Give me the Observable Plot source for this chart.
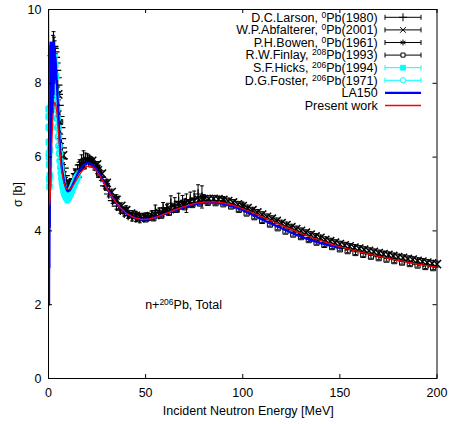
<!DOCTYPE html>
<html><head><meta charset="utf-8">
<script src="https://cdn.jsdelivr.net/npm/d3@7"></script>
<script src="https://cdn.jsdelivr.net/npm/@observablehq/plot@0.6"></script>
<style>body{margin:0;background:#fff}</style>
</head><body><div id="chart"></div>
<script>
const FONT = '"Liberation Sans", Arial, Helvetica, sans-serif';
const xTicks = [0, 50, 100, 150, 200];
const yTicks = [0, 2, 4, 6, 8, 10];
const xTitle = "Incident Neutron Energy [MeV]";
const yTitle = "σ [b]";

// D.C.Larson (1980)
const larsonE = [2.0,2.3,2.6,2.9,3.2,3.5,3.8,4.1,4.4,4.7,5.0,5.4,5.8,6.2,6.6,7.0,7.5,8.0,8.5,9.0,9.5,10,11,12,13,14,15,16,17,18,19,20,21,22,23,24,25,27,29,31,33,35,37,39,41,43,45,47,49,51,53,55,57,59,61,63,65,67,69,71,73,75,77,79];
const larsonS = [8.75,8.95,9.0,8.95,8.85,8.7,8.55,8.35,8.15,7.95,7.7,7.4,7.1,6.8,6.5,6.25,5.95,5.7,5.5,5.35,5.25,5.2,5.2,5.28,5.42,5.55,5.68,5.78,5.86,5.92,5.96,5.97,5.95,5.9,5.83,5.75,5.65,5.45,5.22,5.0,4.82,4.67,4.56,4.48,4.42,4.37,4.35,4.34,4.36,4.39,4.42,4.55,4.5,4.62,4.6,4.75,4.7,4.8,4.78,4.75,4.85,4.88,5.0,4.92];
const larsonErr = [0.3,0.35,0.4,0.3,0.3,0.25,0.25,0.2,0.2,0.2,0.2,0.15,0.15,0.15,0.12,0.12,0.1,0.1,0.1,0.1,0.1,0.1,0.1,0.1,0.1,0.1,0.12,0.15,0.2,0.25,0.15,0.12,0.1,0.1,0.1,0.1,0.1,0.08,0.08,0.08,0.08,0.08,0.08,0.08,0.08,0.1,0.1,0.12,0.1,0.1,0.12,0.15,0.12,0.15,0.12,0.2,0.2,0.22,0.18,0.25,0.2,0.2,0.25,0.3];

// W.P.Abfalterer (2001)
const abfE = [5,7.5,10,12.5,15,17.5,20,22.5,25,27.5,30,32.5,35,37.5,40,42.5,45,47.5,50,52.5,55,57.5,60,62.5,65,67.5,70,72.5,75,77.5,80,82.5,85,87.5,90,92.5,95,97.5,100,102.5,105,107.5,110,112.5,115,117.5,120,122.5,125,127.5,130,132.5,135,137.5,140,142.5,145,147.5,150,152.5,155,157.5,160,162.5,165,167.5,170,172.5,175,177.5,180,182.5,185,187.5,190,192.5,195,197.5,200];
const abfS = [7.7,6.05,5.3,5.3,5.55,5.78,5.9,5.9,5.8,5.55,5.3,5.05,4.84,4.68,4.56,4.47,4.41,4.38,4.38,4.39,4.43,4.48,4.53,4.59,4.64,4.69,4.73,4.77,4.81,4.84,4.86,4.87,4.87,4.86,4.84,4.81,4.77,4.72,4.67,4.62,4.56,4.5,4.44,4.38,4.33,4.27,4.21,4.16,4.1,4.05,4.0,3.95,3.9,3.85,3.81,3.76,3.72,3.68,3.64,3.61,3.58,3.55,3.52,3.49,3.46,3.43,3.4,3.37,3.35,3.32,3.29,3.27,3.24,3.22,3.19,3.17,3.14,3.12,3.1];
const abfErr = 0.08;

// P.H.Bowen (1961)
const bowenE = [14,18,22,26,30,35,40,45,50,60,70,80,90,100];
const bowenS = [5.5,5.85,5.92,5.7,5.32,4.9,4.6,4.45,4.4,4.55,4.78,4.9,4.85,4.7];
const bowenErr = 0.08;

// R.W.Finlay (1993)
const finlayE = [6,10,14,18,22,26,30,34,38,42,46,50,54,58,62,66,70,74,78,82,86,90,94,98,102,106,110,114,118,122,126,130,134,138,142,146,150,154,158,162,166,170,174,178,182,186,190,194,198];
const finlayS = [6.95,5.2,5.45,5.78,5.8,5.55,5.17,4.83,4.58,4.42,4.33,4.31,4.34,4.41,4.49,4.57,4.64,4.7,4.74,4.76,4.75,4.72,4.66,4.57,4.47,4.37,4.27,4.17,4.07,3.98,3.9,3.83,3.75,3.68,3.62,3.56,3.5,3.45,3.4,3.35,3.3,3.26,3.22,3.18,3.14,3.1,3.06,3.02,2.99];
const finlayErr = 0.04;

// S.F.Hicks (1994)
const hicksE = [0.05,0.08,0.12,0.16,0.2,0.25,0.3,0.4,0.5,0.6,0.8,1.0,1.3,1.6,2.0,2.5,3.0,3.5,4.0];
const hicksS = [7.3,7.1,6.8,6.4,6.1,6.0,5.8,5.4,5.2,5.5,6.2,6.8,7.4,7.9,8.3,8.6,8.7,8.5,8.2];
const hicksErr = 0.1;

// D.G.Foster (1971)
const fosterE = [2.4,2.7,3.0,3.3,3.6,3.9,4.2,4.5,4.8,5.1,5.4,5.7,6.0,6.3,6.6,6.9,7.2,7.5,7.8,8.1,8.4,8.7,9.0,9.3,9.6,9.9,10.2,10.5,10.8,11.1,11.4,11.7,12.0,12.4,12.8,13.2,13.6,14.0,14.5,15.0];
const fosterS = [8.1,8.0,7.9,7.8,7.65,7.5,7.3,7.05,6.8,6.55,6.3,6.1,5.9,5.72,5.56,5.42,5.3,5.2,5.12,5.05,5.0,4.96,4.93,4.91,4.9,4.9,4.92,4.94,4.97,5.0,5.04,5.08,5.12,5.17,5.22,5.27,5.32,5.37,5.43,5.48];
const fosterErr = 0.14;
const fosterEres = 0.8;

// LA150 evaluation
const laE = [0,0.1,0.2,0.3,0.4,0.5,0.6,0.7,0.8,0.9,1.0,1.1,1.2,1.3,1.4,1.5,1.6,1.7,1.8,1.9,2.0,2.2,2.4,2.6,2.8,3.0,3.2,3.4,3.6,3.8,4.0,4.5,5.0,5.5,6.0,6.5,7,8,9,9.5,10,11,12,14,16,18,20,22,24,26,28,30,33,36,40,44,48,52,56,60,65,70,75,80,85,90,95,100,105,110,115,120,125,130,135,140,145,150];
const laS = [9.0,2.1,8.6,2.0,7.2,3.0,8.9,4.1,8.5,5.2,9.1,6.0,8.7,6.4,9.0,6.8,8.8,7.0,9.1,7.2,8.9,7.4,9.0,7.7,9.1,8.0,8.9,8.3,8.7,8.5,8.3,7.8,7.3,6.7,6.2,5.9,5.65,5.35,5.17,5.1,5.07,5.1,5.2,5.45,5.65,5.78,5.84,5.82,5.72,5.56,5.37,5.17,4.9,4.67,4.47,4.36,4.31,4.32,4.38,4.46,4.56,4.65,4.72,4.76,4.77,4.73,4.66,4.56,4.44,4.31,4.19,4.07,3.95,3.84,3.75,3.67,3.6,3.54];

// Present work
const pwE = [0,0.2,0.4,0.6,0.9,1.3,1.8,2.3,2.8,3.3,3.8,4.3,4.8,5.3,5.8,6.3,6.8,7.4,8,8.7,9.4,10.2,11,12,13,14,16,18,20,22,24,26,28,30,33,36,40,44,48,52,56,60,65,70,75,80,85,90,95,100,105,110,115,120,125,130,135,140,145,150,160,170,180,190,200];
const pwS = [10.6,7.5,5.3,4.7,4.9,5.6,6.5,7.1,7.4,7.48,7.42,7.2,6.9,6.55,6.2,5.9,5.65,5.45,5.3,5.2,5.14,5.12,5.13,5.18,5.26,5.35,5.53,5.67,5.75,5.75,5.67,5.53,5.35,5.16,4.9,4.68,4.48,4.36,4.31,4.32,4.38,4.46,4.57,4.66,4.74,4.78,4.79,4.76,4.7,4.6,4.5,4.38,4.27,4.15,4.04,3.93,3.83,3.74,3.65,3.57,3.43,3.31,3.2,3.1,3.02];

const annot = {E: 50, s: 2, pre: "n+", sup: "206", post: "Pb, Total"};

const legendItems = [
  {pre: "D.C.Larson, ", sup: "0", post: "Pb(1980)", color: "black", sym: "plus", err: true},
  {pre: "W.P.Abfalterer, ", sup: "0", post: "Pb(2001)", color: "black", sym: "times", err: true},
  {pre: "P.H.Bowen, ", sup: "0", post: "Pb(1961)", color: "black", sym: "asterisk", err: true},
  {pre: "R.W.Finlay, ", sup: "208", post: "Pb(1993)", color: "black", sym: "square", err: true},
  {pre: "S.F.Hicks, ", sup: "206", post: "Pb(1994)", color: "#00ffff", sym: "squareFill", err: true},
  {pre: "D.G.Foster, ", sup: "206", post: "Pb(1971)", color: "#00ffff", sym: "circle", err: true},
  {pre: "LA150", color: "#0000ff", width: 2.2},
  {pre: "Present work", color: "#ff0000", width: 1.3}
];

function rows(E, S, err) {
  return E.map((e, i) => ({E: e, s: S[i], err: Array.isArray(err) ? err[i] : err}));
}
const larson = rows(larsonE, larsonS, larsonErr);
const abf = rows(abfE, abfS, abfErr);
const bowen = rows(bowenE, bowenS, bowenErr);
const finlay = rows(finlayE, finlayS, finlayErr);
const hicks = rows(hicksE, hicksS, hicksErr);
const foster = rows(fosterE, fosterS, fosterErr);
const la = rows(laE, laS, 0);
const pw = rows(pwE, pwS, 0);

const hbar = {draw(ctx, size) { const w = Math.sqrt(size); ctx.moveTo(-w, 0); ctx.lineTo(w, 0); }};

function errMarks(data, color) {
  return [
    Plot.ruleX(data, {x: "E", y1: d => d.s - d.err, y2: d => d.s + d.err, stroke: color, strokeWidth: 1}),
    Plot.dot(data, {x: "E", y: d => d.s - d.err, symbol: hbar, r: 1.1, stroke: color, strokeWidth: 1}),
    Plot.dot(data, {x: "E", y: d => d.s + d.err, symbol: hbar, r: 1.1, stroke: color, strokeWidth: 1})
  ];
}

const W = 449, H = 424;
const mL = 48, mR = 12.5, mT = 9, mB = 46;
const fw = W - mL - mR, fh = H - mT - mB, tk = 4;

const chart = Plot.plot({
  width: W, height: H,
  marginLeft: mL, marginRight: mR, marginTop: mT, marginBottom: mB,
  style: {background: "white", fontFamily: FONT, fontSize: "12.5px", color: "black"},
  x: {domain: [0, 200]},
  y: {domain: [0, 10]},
  marks: [
    // Larson
    ...errMarks(larson, "black"),
    Plot.dot(larson, {x: "E", y: "s", symbol: "plus", r: 3.2, stroke: "black", strokeWidth: 1.2}),
    // Abfalterer
    ...errMarks(abf, "black"),
    Plot.dot(abf, {x: "E", y: "s", symbol: "times", r: 3.8, stroke: "black", strokeWidth: 1.5}),
    // Bowen
    ...errMarks(bowen, "black"),
    Plot.dot(bowen, {x: "E", y: "s", symbol: "asterisk", r: 3.4, stroke: "black", strokeWidth: 1.2}),
    // Finlay
    ...errMarks(finlay, "black"),
    Plot.dot(finlay, {x: "E", y: "s", symbol: "square", r: 2.9, fill: "white", fillOpacity: 0, stroke: "black", strokeWidth: 1}),
    // Hicks
    ...errMarks(hicks, "#00ffff"),
    Plot.dot(hicks, {x: "E", y: "s", symbol: "square", r: 2.8, fill: "#00ffff", stroke: "#00ffff"}),
    // Foster
    ...errMarks(foster, "#00ffff"),
    Plot.ruleY(foster, {y: "s", x1: d => d.E - fosterEres, x2: d => d.E + fosterEres, stroke: "#00ffff", strokeWidth: 2}),
    Plot.dot(foster, {x: "E", y: "s", symbol: "circle", r: 3, fill: "none", stroke: "#00ffff", strokeWidth: 1.8}),
    // LA150
    Plot.line(la, {x: "E", y: "s", stroke: "#0000ff", strokeWidth: 2.2, clip: true}),
    // Present work
    Plot.line(pw, {x: "E", y: "s", stroke: "#ff0000", strokeWidth: 1.2, clip: true}),
    // frame, ticks
    Plot.frame({stroke: "black", strokeWidth: 1}),
    Plot.tickX(xTicks, {x: d => d, insetTop: fh - tk, stroke: "black"}),
    Plot.tickX(xTicks, {x: d => d, insetBottom: fh - tk, stroke: "black"}),
    Plot.tickY(yTicks, {y: d => d, insetRight: fw - tk, stroke: "black"}),
    Plot.tickY(yTicks, {y: d => d, insetLeft: fw - tk, stroke: "black"}),
    Plot.axisX(xTicks, {tickSize: 0, tickPadding: 9.5, label: null}),
    Plot.axisY(yTicks, {tickSize: 0, tickPadding: 7, label: null})
  ]
});

document.getElementById("chart").appendChild(chart);

const svg = d3.select(chart);
const sx = chart.scale("x"), sy = chart.scale("y");

function richText(g, x, y, item, anchor) {
  const t = g.append("text").attr("x", x).attr("y", y).attr("dy", "0.35em")
    .attr("text-anchor", anchor).attr("fill", "black");
  t.append("tspan").text(item.pre);
  if (item.sup) {
    t.append("tspan").attr("dy", -4).attr("font-size", "8.5px").text(item.sup);
    t.append("tspan").attr("dy", 4).text(item.post);
  }
  return t;
}

const overlay = svg.append("g").attr("font-family", FONT).attr("font-size", "12.5px");

// annotation inside plot
richText(overlay, sx.apply(annot.E), sy.apply(annot.s), annot, "start");

// axis titles
overlay.append("text").attr("x", mL + fw / 2 + 6).attr("y", H - 13).attr("dy", "0.35em")
  .attr("text-anchor", "middle").attr("fill", "black").text(xTitle);
overlay.append("text").attr("transform", `translate(17.5,${mT + fh / 2 + 1}) rotate(-90)`).attr("dy", "0.35em")
  .attr("text-anchor", "middle").attr("fill", "black").text(yTitle);

// legend
const symMap = {plus: d3.symbolPlus, times: d3.symbolTimes, asterisk: d3.symbolAsterisk, square: d3.symbolSquare, squareFill: d3.symbolSquare, circle: d3.symbolCircle};
legendItems.forEach((it, i) => {
  const y = 17.3 + i * 12.6;
  richText(overlay, 377.7, y, it, "end");
  const x1 = 385, x2 = 421, xm = (x1 + x2) / 2;
  overlay.append("line").attr("x1", x1).attr("x2", x2).attr("y1", y).attr("y2", y)
    .attr("stroke", it.color).attr("stroke-width", it.width || 1);
  if (it.err) {
    [x1, x2].forEach(xx => overlay.append("line").attr("x1", xx).attr("x2", xx)
      .attr("y1", y - 2.5).attr("y2", y + 2.5).attr("stroke", it.color));
    const r = it.sym === "square" ? 2.3 : 2.7;
    overlay.append("path").attr("transform", `translate(${xm},${y})`)
      .attr("d", d3.symbol().type(symMap[it.sym]).size(Math.PI * r * r)())
      .attr("fill", it.sym === "squareFill" ? it.color : (it.sym === "square" || it.sym === "circle" ? "white" : "none"))
      .attr("stroke", it.color).attr("stroke-width", 1);
  }
});
</script>
</body></html>
